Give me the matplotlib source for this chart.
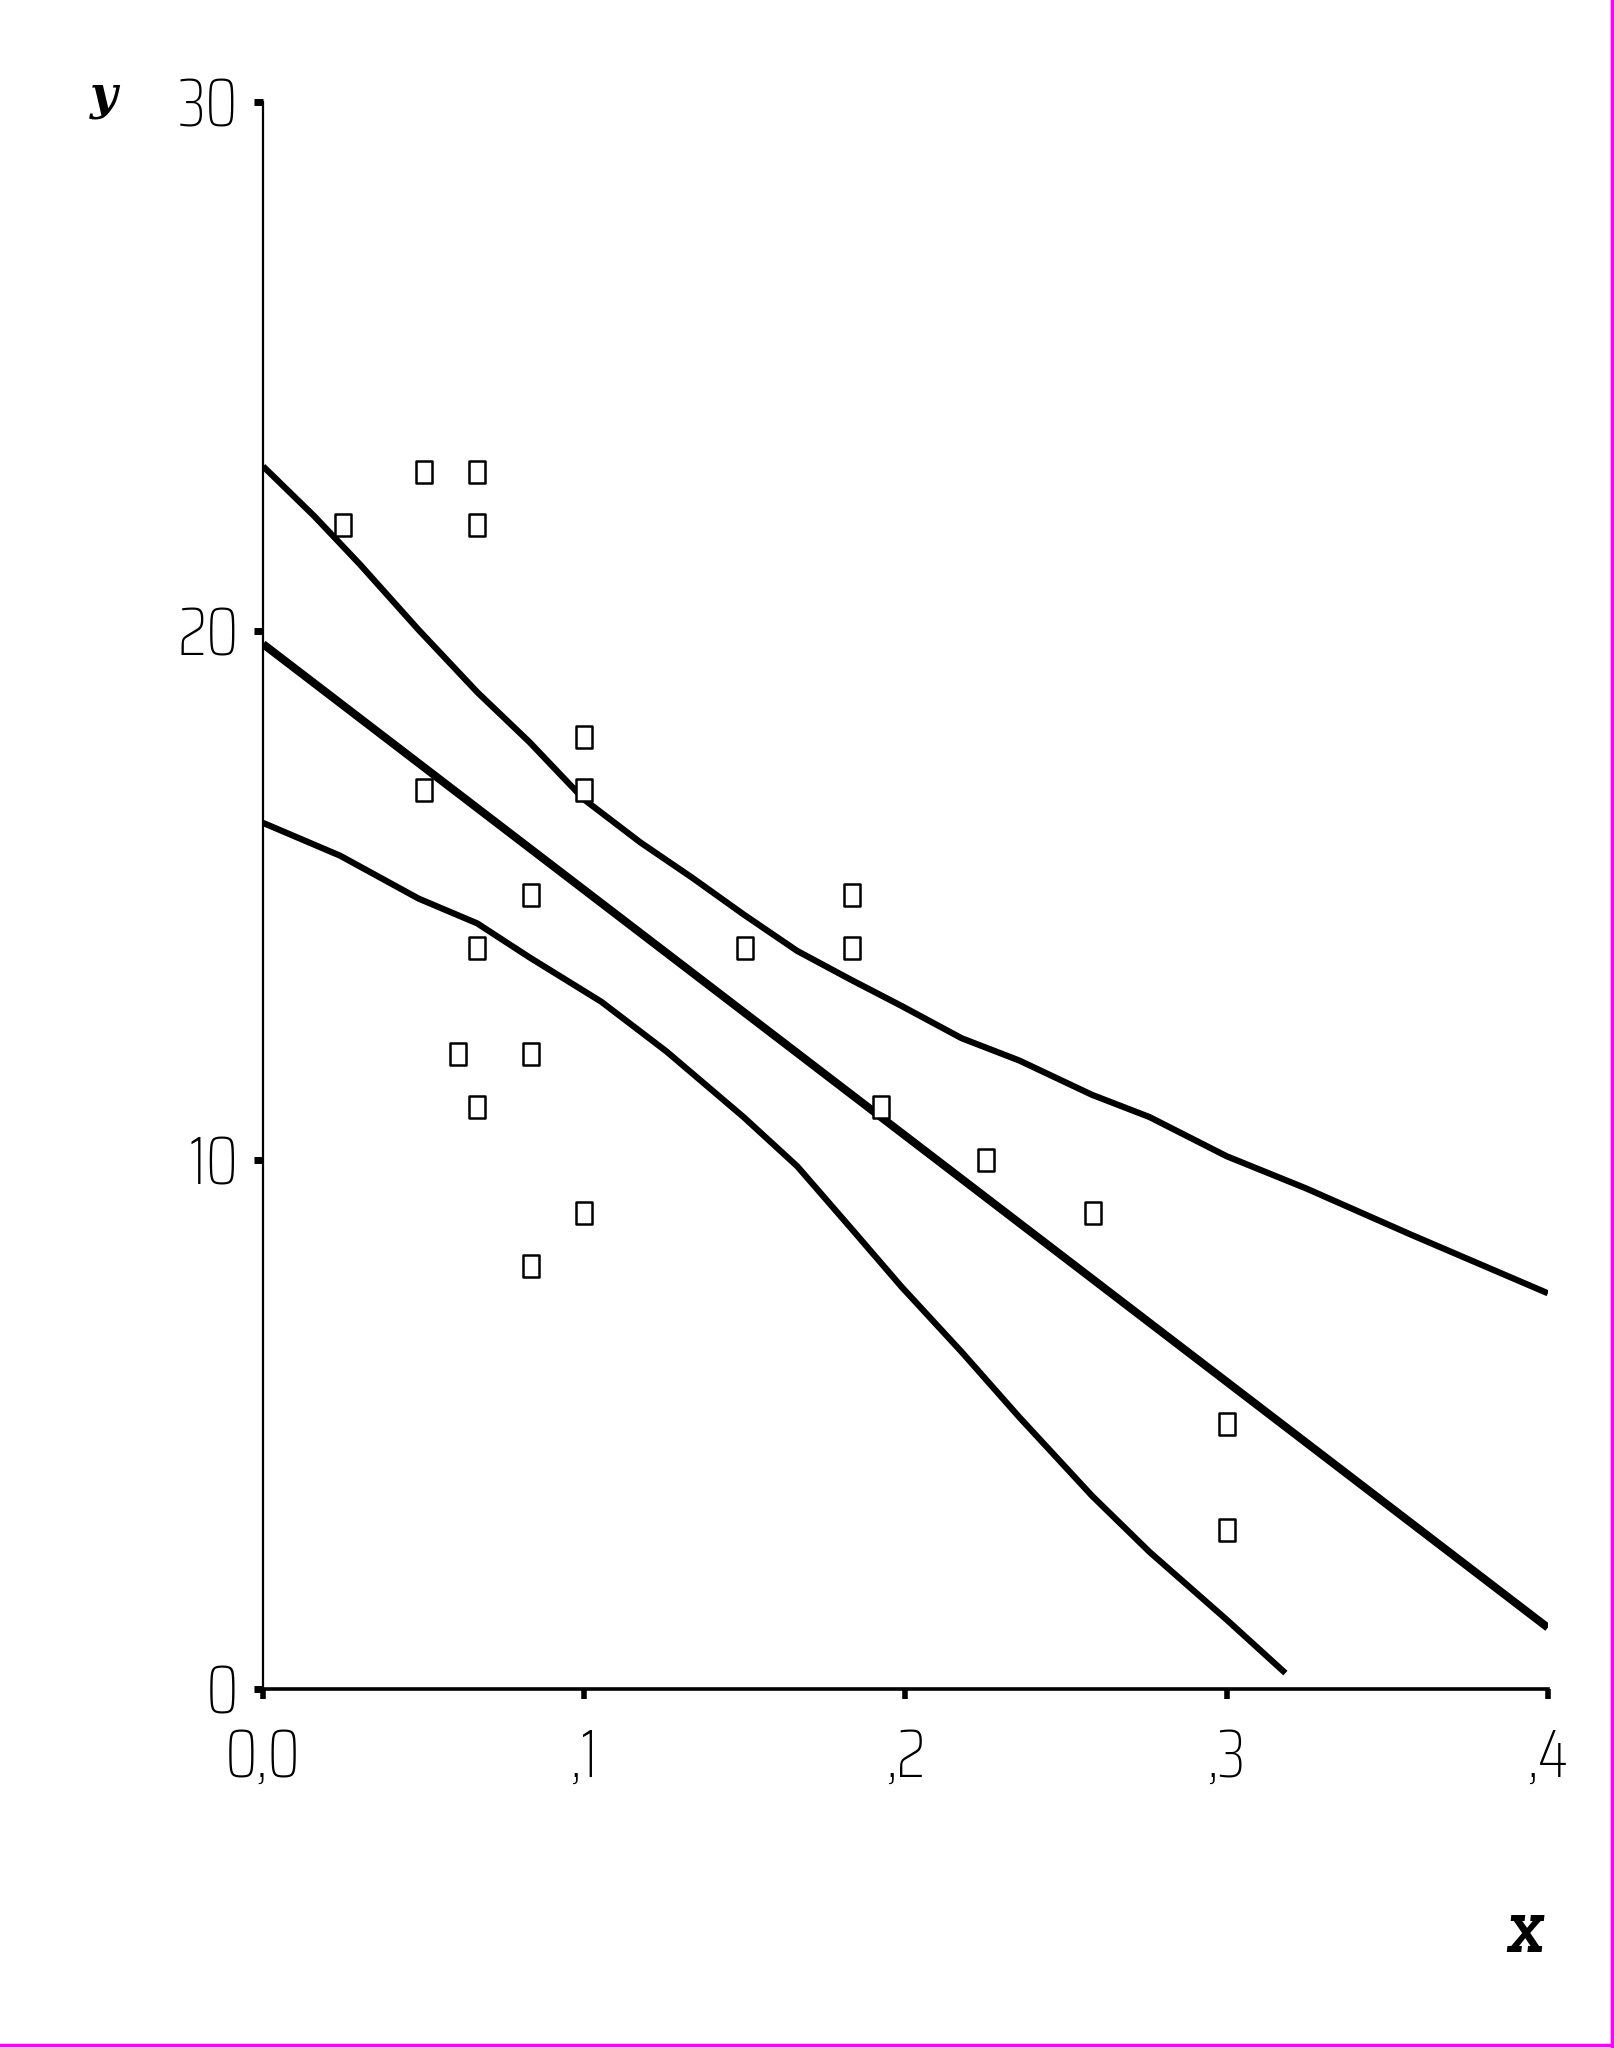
import matplotlib
matplotlib.use("Agg")
import matplotlib.pyplot as plt
from matplotlib.path import Path
from matplotlib.lines import Line2D

# observed points
x_obs = [0.025, 0.05, 0.0667, 0.0667, 0.05, 0.1, 0.1, 0.0833, 0.0667, 0.0606,
         0.0833, 0.0667, 0.1, 0.0833, 0.15, 0.1833, 0.1833, 0.1923, 0.225,
         0.2583, 0.3, 0.3]
y_obs = [22, 23, 23, 22, 17, 18, 17, 15, 14, 12,
         12, 11, 9, 8, 14, 15, 14, 11, 10,
         9, 5, 3]

# fitted line
x_fit = [0.0, 0.4]
y_fit = [19.75, 1.16]

# upper band
x_up = [0, 0.0159, 0.0301, 0.0484, 0.0667, 0.0829, 0.1, 0.1175, 0.1337, 0.1496,
        0.1663, 0.1829, 0.1988, 0.2175, 0.2354, 0.2581, 0.276, 0.3, 0.3248,
        0.3573, 0.4]
y_up = [23.11, 22.17, 21.26, 20.02, 18.84, 17.90, 16.81, 16.0, 15.33, 14.64,
        13.95, 13.41, 12.91, 12.30, 11.88, 11.23, 10.81, 10.07, 9.46,
        8.59, 7.48]

# lower band
x_lo = [0, 0.024, 0.0484, 0.0667, 0.0829, 0.1053, 0.1256, 0.1496, 0.1663,
        0.1829, 0.1988, 0.2175, 0.2354, 0.2581, 0.276, 0.3, 0.3183]
y_lo = [16.37, 15.75, 14.94, 14.47, 13.83, 12.99, 12.05, 10.81, 9.88,
        8.72, 7.60, 6.37, 5.14, 3.65, 2.59, 1.31, 0.30]

x_ticks = [0.0, 0.1, 0.2, 0.3, 0.4]
x_tick_labels = ["0,0", ",1", ",2", ",3", ",4"]
y_ticks = [0, 10, 20, 30]
y_tick_labels = ["0", "10", "20", "30"]

tick_font = ["Saira Condensed", "DejaVu Sans"]

fig = plt.figure(figsize=(16.14, 20.48), dpi=100)
ax = fig.add_axes([0.163, 0.1753, 0.796, 0.775])

# tall narrow box marker
box = Path([(-0.36, -0.5), (0.36, -0.5), (0.36, 0.5), (-0.36, 0.5), (-0.36, -0.5)],
           [Path.MOVETO, Path.LINETO, Path.LINETO, Path.LINETO, Path.CLOSEPOLY])

ax.plot(x_up, y_up, color="black", lw=4.5, solid_capstyle="butt", solid_joinstyle="round")
ax.plot(x_lo, y_lo, color="black", lw=4.5, solid_capstyle="butt", solid_joinstyle="round")
ax.plot(x_fit, y_fit, color="black", lw=5.8, solid_capstyle="butt")
ax.plot(x_obs, y_obs, linestyle="none", marker=box, markersize=16,
        markerfacecolor="white", markeredgecolor="black", markeredgewidth=1.8)

ax.set_xlim(0, 0.4)
ax.set_ylim(0, 30)
ax.spines["top"].set_visible(False)
ax.spines["right"].set_visible(False)
ax.spines["left"].set_linewidth(1.6)
ax.spines["bottom"].set_linewidth(2.6)

ax.set_xticks(x_ticks)
ax.set_xticklabels(x_tick_labels, family=tick_font, fontweight=250, fontsize=48)
ax.set_yticks(y_ticks)
ax.set_yticklabels(y_tick_labels, family=tick_font, fontweight=250, fontsize=48)
ax.tick_params(axis="x", direction="out", length=7, width=4, pad=20)
ax.tick_params(axis="y", direction="out", length=6.5, width=5, pad=11)

fig.text(0.064, 0.953, "y", family=["DejaVu Serif"],
         fontsize=34, fontweight="bold", fontstyle="italic", ha="center", va="center")
fig.text(0.945, 0.0535, "X", family=["Zilla Slab", "DejaVu Serif"],
         fontsize=40, fontweight="bold", fontstyle="italic", ha="center", va="center")

# magenta frame on right and bottom edge
fig.add_artist(Line2D([0.9985, 0.9985], [0, 1], transform=fig.transFigure,
                      color="#ff00ff", lw=2.5))
fig.add_artist(Line2D([0, 1], [0.0015, 0.0015], transform=fig.transFigure,
                      color="#ff00ff", lw=2.5))

fig.savefig("out.png", dpi=100, facecolor="white")
